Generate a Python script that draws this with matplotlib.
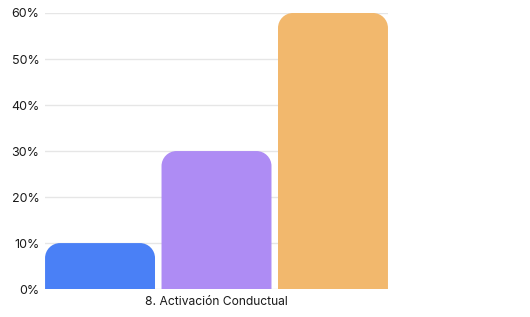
import matplotlib.pyplot as plt
from matplotlib.patches import PathPatch
from matplotlib.path import Path
from matplotlib.ticker import FuncFormatter

# Data
category = "8. Activación Conductual"
values = [10, 30, 60]
colors = ["#4a80f6", "#ae8cf4", "#f2b86d"]

plt.rcParams["font.family"] = ["Inter", "DejaVu Sans"]

fig = plt.figure(figsize=(5.3, 3.17), dpi=100)
ax = fig.add_axes([0.085, 0.088, 0.647, 0.871])

width = 0.944
xs = list(range(len(values)))
ax.set_xlim(-width / 2, xs[-1] + width / 2)
ax.set_ylim(0, 60)

# convert a 15px corner radius into data units for each axis
fig.canvas.draw()
bbox = ax.get_window_extent()
px_x = bbox.width / (ax.get_xlim()[1] - ax.get_xlim()[0])
px_y = bbox.height / (ax.get_ylim()[1] - ax.get_ylim()[0])
r_px = 15
rx = r_px / px_x
ry = r_px / px_y
k = 0.5523  # bezier circle constant


def top_rounded_bar(left, w, h):
    right = left + w
    verts = [
        (left, 0), (left, h - ry),
        (left, h - ry + k * ry), (left + rx - k * rx, h), (left + rx, h),
        (right - rx, h),
        (right - rx + k * rx, h), (right, h - ry + k * ry), (right, h - ry),
        (right, 0), (left, 0),
    ]
    codes = [Path.MOVETO, Path.LINETO,
             Path.CURVE4, Path.CURVE4, Path.CURVE4,
             Path.LINETO,
             Path.CURVE4, Path.CURVE4, Path.CURVE4,
             Path.LINETO, Path.CLOSEPOLY]
    return Path(verts, codes)


for x, v, c in zip(xs, values, colors):
    ax.add_patch(PathPatch(top_rounded_bar(x - width / 2, width, v),
                           facecolor=c, edgecolor="none", zorder=3))

ax.set_yticks(range(0, 61, 10))
ax.yaxis.set_major_formatter(FuncFormatter(lambda y, _: f"{int(y)}%"))
ax.set_xticks([xs[1]])
ax.set_xticklabels([category])
ax.tick_params(axis="both", length=0, colors="#1a1a1a")
ax.tick_params(axis="y", pad=4, labelsize=9)
ax.tick_params(axis="x", pad=5, labelsize=8.7)

for s in ax.spines.values():
    s.set_visible(False)
ax.grid(axis="y", color="#e6e6e6", linewidth=1)
ax.set_axisbelow(True)

fig.savefig("out.png", dpi=100)
